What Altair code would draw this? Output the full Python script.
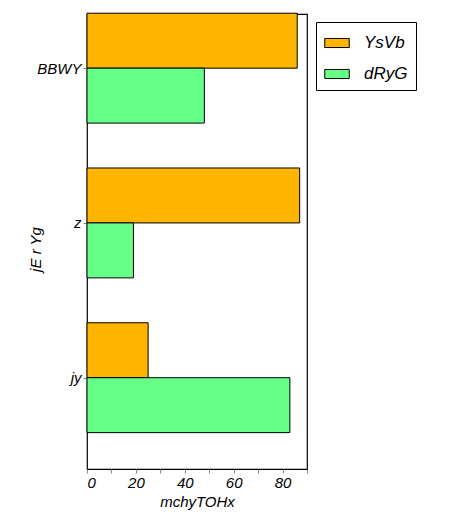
import altair as alt
import pandas as pd

categories = ['jy', 'z', 'BBWY']
series = ['YsVb', 'dRyG']
ysvb = [25, 87, 86]
dryg = [83, 19, 48]
colors = ['#ffb400', '#66ff88']

rows = []
for i, cat in enumerate(categories):
    rows.append({'cat': cat, 'pos': i, 'series': 'YsVb', 'value': ysvb[i], 'side': 1})
    rows.append({'cat': cat, 'pos': i, 'series': 'dRyG', 'value': dryg[i], 'side': -1})
df = pd.DataFrame(rows)

font = 'Liberation Sans'
label_expr = "datum.value == 0 ? 'jy' : datum.value == 1 ? 'z' : datum.value == 2 ? 'BBWY' : ''"

chart = alt.Chart(df).transform_calculate(
    yA='datum.pos',
    yB='datum.pos + 0.355 * datum.side',
).mark_bar(stroke='black', strokeWidth=1, opacity=1).encode(
    x=alt.X('value:Q', title='mchyTOHx',
            scale=alt.Scale(domain=[0, 90], nice=False),
            axis=alt.Axis(values=list(range(0, 100, 10)), grid=False, tickSize=4,
                          labelFont=font, labelFontStyle='italic', labelFontSize=15,
                          labelColor='black', titleFont=font, titleFontStyle='italic',
                          titleFontSize=15, titleFontWeight='normal', titleColor='black',
                          domain=False, labelPadding=2, titlePadding=4)),
    x2=alt.value(0),
    y=alt.Y('yA:Q', title='jE r  Yg',
            scale=alt.Scale(domain=[-0.59, 2.35], nice=False, zero=False),
            axis=alt.Axis(values=[0, 1, 2], labelExpr=label_expr, grid=False, tickSize=4,
                          labelFont=font, labelFontStyle='italic', labelFontSize=15,
                          labelColor='black', titleFont=font, titleFontStyle='italic',
                          titleFontSize=15, titleFontWeight='normal', titleColor='black',
                          domain=False, titleX=-52, titleY=235, titleAngle=270,
                          titleAlign='center', titleBaseline='middle')),
    y2='yB:Q',
    color=alt.Color('series:N', title=None,
                    scale=alt.Scale(domain=series, range=colors),
                    legend=alt.Legend(orient='none', legendX=229, legendY=8,
                                      symbolType='M-1,-0.37L1,-0.37L1,0.37L-1,0.37Z',
                                      symbolSize=600, symbolStrokeColor='black',
                                      symbolStrokeWidth=1, symbolOpacity=1,
                                      labelFont=font, labelFontStyle='italic',
                                      labelFontSize=17, labelColor='black',
                                      labelOffset=14, rowPadding=10,
                                      strokeColor='black', padding=8,
                                      fillColor='white')),
).properties(
    width=220, height=455,
    autosize=alt.AutoSizeParams(type='none'),
    padding={'left': 79, 'top': 6, 'right': 141, 'bottom': 55},
).configure_view(stroke='black', strokeWidth=1.2)

chart.save("out.html", embed_options={"renderer": "svg", "actions": False})
